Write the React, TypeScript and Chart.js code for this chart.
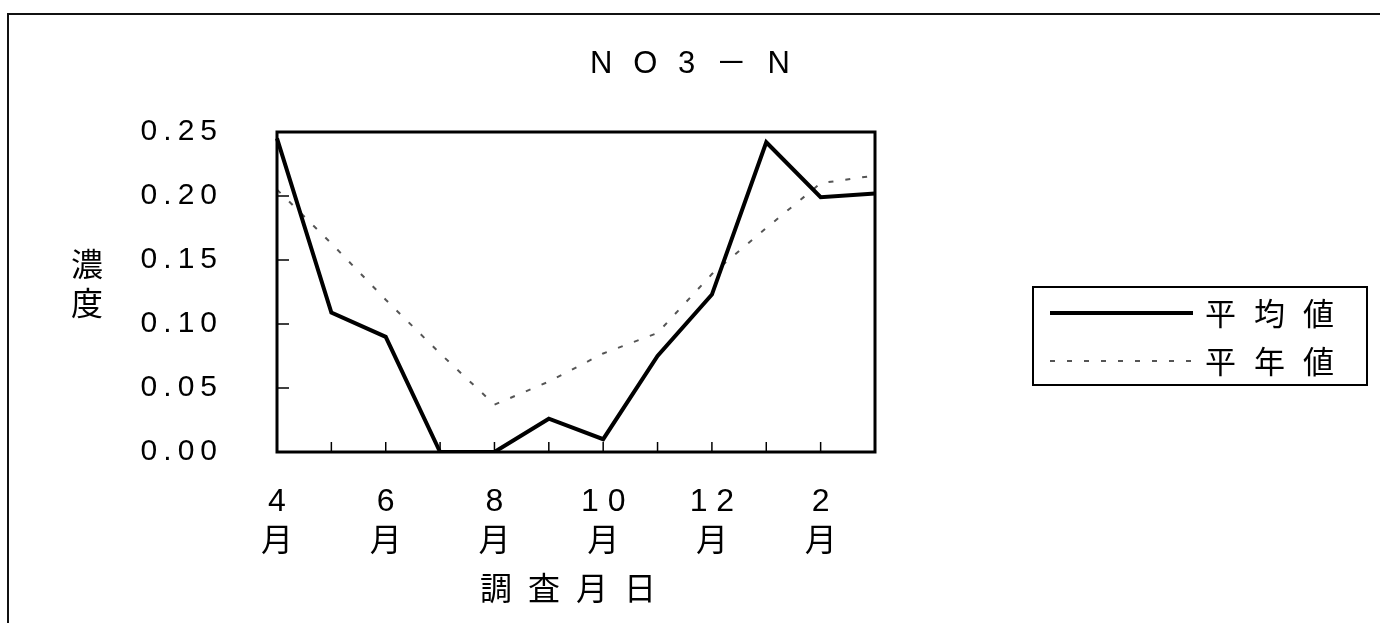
import React, { useEffect, useRef } from 'react';
import { Chart, registerables } from 'chart.js';

Chart.register(...registerables);

// ---- data ----
const months = ['4月', '5月', '6月', '7月', '8月', '9月', '10月', '11月', '12月', '1月', '2月', '3月'];
const monthNumbers = [4, 5, 6, 7, 8, 9, 10, 11, 12, 1, 2, 3];
const averageValues = [0.245, 0.109, 0.09, 0.0, 0.0, 0.026, 0.01, 0.075, 0.123, 0.242, 0.199, 0.202];
const normalValues = [0.205, 0.163, 0.119, 0.077, 0.037, 0.055, 0.077, 0.093, 0.139, 0.175, 0.21, 0.216];
const seriesNames = ['平均値', '平年値'];
const chartTitle = 'NO3－N';
const yAxisTitle = '濃度';
const xAxisTitle = '調査月日';
const yMin = 0;
const yMax = 0.25;
const yStep = 0.05;

const FONT = "'Liberation Sans', 'Noto Sans CJK JP', sans-serif";
const CJK_FONT = "'Noto Sans CJK JP', 'Liberation Sans', sans-serif";

const spaced = (s: string, sep: string) => Array.from(s).join(sep);

const decorPlugin = {
  id: 'decor',
  afterDraw(chart: any) {
    const { ctx, chartArea: a, scales } = chart;
    const xs = scales.x;
    const ys = scales.y;
    ctx.save();
    ctx.strokeStyle = '#000';
    ctx.lineWidth = 1.5;
    ys.ticks.forEach((t: any) => {
      const py = ys.getPixelForValue(t.value);
      ctx.beginPath();
      ctx.moveTo(a.left, py);
      ctx.lineTo(a.left + 12, py);
      ctx.stroke();
    });
    months.forEach((_m, i) => {
      const px = xs.getPixelForValue(i);
      ctx.beginPath();
      ctx.moveTo(px, a.bottom);
      ctx.lineTo(px, a.bottom - 10);
      ctx.stroke();
    });
    ctx.lineWidth = 3;
    ctx.strokeRect(a.left, a.top, a.right - a.left, a.bottom - a.top);

    // vertical y-axis title
    ctx.fillStyle = '#000';
    ctx.font = `32px ${CJK_FONT}`;
    ctx.textAlign = 'center';
    ctx.textBaseline = 'middle';
    Array.from(yAxisTitle).forEach((ch, i) => {
      ctx.fillText(ch, 87, 264 + i * 39);
    });

    // legend box
    ctx.lineWidth = 2;
    ctx.strokeRect(1033, 287, 334, 98);
    chart.data.datasets.forEach((ds: any, i: number) => {
      const rowY = 313 + i * 48;
      ctx.save();
      ctx.strokeStyle = ds.borderColor;
      ctx.lineWidth = ds.borderWidth;
      ctx.setLineDash(ds.borderDash || []);
      ctx.beginPath();
      ctx.moveTo(1050, rowY);
      ctx.lineTo(1193, rowY);
      ctx.stroke();
      ctx.restore();
      ctx.save();
      ctx.fillStyle = '#000';
      ctx.font = `31px ${CJK_FONT}`;
      (ctx as any).letterSpacing = '18px';
      ctx.textAlign = 'left';
      ctx.textBaseline = 'middle';
      ctx.fillText(ds.label, 1205, rowY);
      ctx.restore();
    });
    ctx.restore();
  },
};

export default function App() {
  const canvasRef = useRef<HTMLCanvasElement | null>(null);

  useEffect(() => {
    if (!canvasRef.current) return;
    const chart = new Chart(canvasRef.current, {
      type: 'line',
      data: {
        labels: months,
        datasets: [
          {
            label: seriesNames[0],
            data: averageValues,
            borderColor: '#000',
            borderWidth: 4,
            pointRadius: 0,
            tension: 0,
            fill: false,
          },
          {
            label: seriesNames[1],
            data: normalValues,
            borderColor: '#555',
            borderWidth: 2,
            borderDash: [5, 12],
            pointRadius: 0,
            tension: 0,
            fill: false,
          },
        ],
      },
      options: {
        responsive: false,
        animation: false,
        devicePixelRatio: 1,
        layout: { padding: { left: 0, right: 0, top: 0, bottom: 19 } },
        plugins: {
          legend: { display: false },
          tooltip: { enabled: false },
          title: {
            display: true,
            text: spaced(chartTitle, '\u2002\u2006'),
            color: '#000',
            font: { family: FONT, size: 31, weight: 'normal', lineHeight: 1 },
            padding: { top: 49, bottom: 52 },
          },
        },
        scales: {
          x: {
            type: 'category',
            offset: false,
            grid: { display: false, drawTicks: false },
            border: { display: false },
            ticks: {
              autoSkip: false,
              maxRotation: 0,
              padding: 30,
              color: '#000',
              font: { family: FONT, size: 32, lineHeight: 1.25 },
              callback: (_v: any, i: number) =>
                i % 2 === 0 ? [spaced(String(monthNumbers[i]), ' '), '月'] : null,
            },
            title: {
              display: true,
              text: spaced(xAxisTitle, '\u2002') + '\u2002',
              color: '#000',
              font: { family: CJK_FONT, size: 32, lineHeight: 1 },
              padding: { top: 0, bottom: 0 },
            },
            afterFit: (scale: any) => {
              scale.height = 152;
            },
          },
          y: {
            min: yMin,
            max: yMax,
            grid: { display: false, drawTicks: false },
            border: { display: false },
            ticks: {
              stepSize: yStep,
              padding: 60,
              color: '#000',
              font: { family: FONT, size: 30, lineHeight: 1 },
              callback: (v: any) => spaced(Number(v).toFixed(2), '\u2009'),
            },
            afterFit: (scale: any) => {
              scale.width = 277;
            },
          },
          legendSpace: {
            type: 'linear',
            position: 'right',
            display: true,
            grid: { display: false, drawTicks: false },
            border: { display: false },
            ticks: { display: false },
            afterFit: (scale: any) => {
              scale.width = 505;
            },
          },
        },
      } as any,
      plugins: [decorPlugin],
    });
    return () => chart.destroy();
  }, []);

  return (
    <div
      style={{
        position: 'fixed',
        left: 0,
        top: 0,
        width: 1380,
        height: 623,
        background: '#fff',
        overflow: 'hidden',
      }}
    >
      <div
        style={{
          position: 'absolute',
          left: 7,
          top: 13,
          right: 0,
          bottom: 0,
          borderTop: '2px solid #111',
          borderLeft: '2px solid #111',
        }}
      />
      <canvas
        ref={canvasRef}
        width={1380}
        height={623}
        style={{ position: 'absolute', left: 0, top: 0, width: 1380, height: 623 }}
      />
    </div>
  );
}
